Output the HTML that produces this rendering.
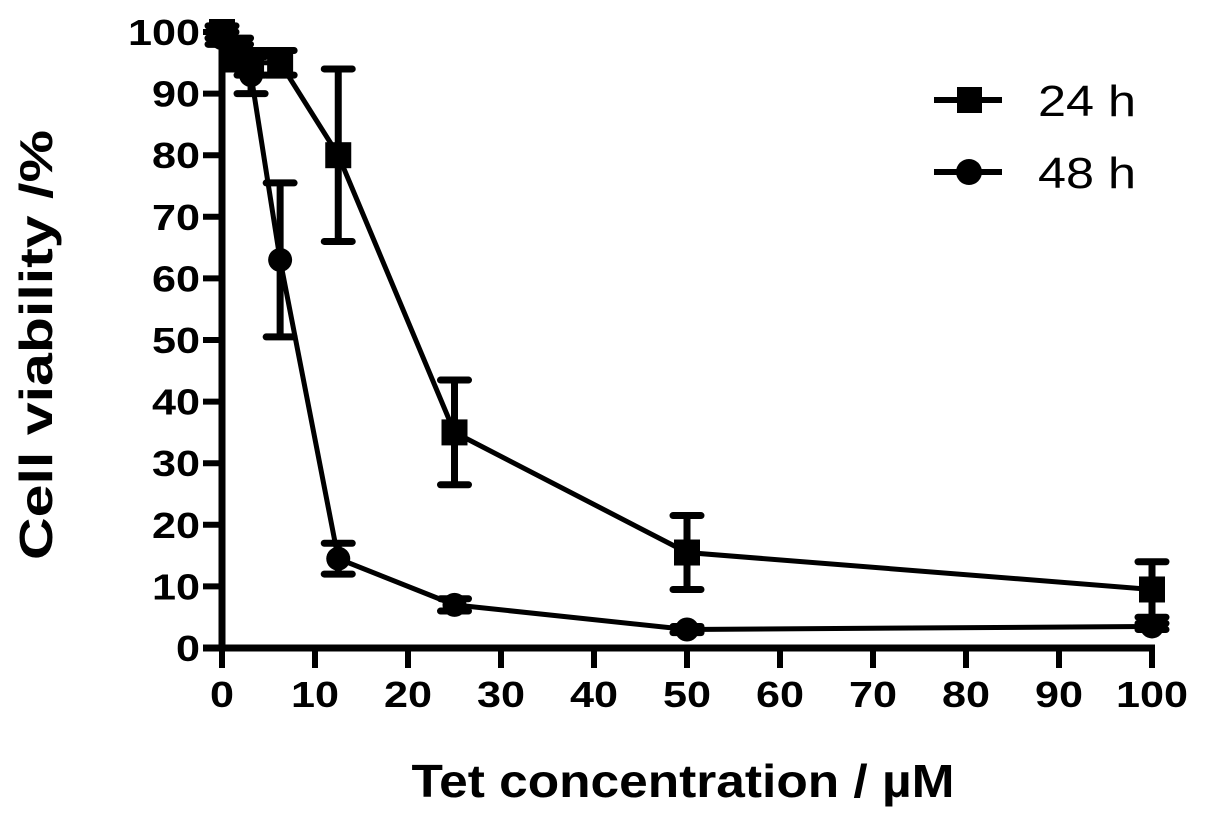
<!DOCTYPE html>
<html><head><meta charset="utf-8"><style>
body{margin:0;background:#fff}
svg text{font-family:"Liberation Sans",Arial,sans-serif}
</style></head><body>
<svg id="c" width="1205" height="826" viewBox="0 0 1205 826" xmlns="http://www.w3.org/2000/svg"></svg>
<script>
const xs=[0,1.5625,3.125,6.25,12.5,25,50,100];
const v24=[100,97,95,95,80,35,15.5,9.5];
const e24=[1,2,2,2,14,8.5,6,4.5];
const v48=[99,96,93,63,14.5,7,3,3.5];
const e48=[1,2,3,12.5,2.5,1,0.5,0.5];
const xTicks=[0,10,20,30,40,50,60,70,80,90,100];
const yTicks=[0,10,20,30,40,50,60,70,80,90,100];
const svg=document.getElementById('c');
const NS='http://www.w3.org/2000/svg';
const X=v=>222+v*9.3, Y=v=>648-v*6.16;
function mk(t,a,p){const e=document.createElementNS(NS,t);for(const k in a)e.setAttribute(k,a[k]);(p||svg).appendChild(e);return e;}
const ax=mk('g',{});


mk('line',{x1:222,y1:Y(100)-2,x2:222,y2:650,stroke:'#000','stroke-width':7},ax);
mk('line',{x1:203,y1:648,x2:X(100)+3,y2:648,stroke:'#000','stroke-width':7},ax);
yTicks.forEach(t=>{mk('line',{x1:203,y1:Y(t),x2:222,y2:Y(t),stroke:'#000','stroke-width':6},ax);
 const s=String(t);
 const tx=mk('text',{x:200,y:Y(t)+13,'text-anchor':'end','font-size':36,'font-weight':'bold',textLength:s.length*24,lengthAdjust:'spacingAndGlyphs'},ax);tx.textContent=s;
 });
xTicks.forEach(t=>{mk('line',{x1:X(t),y1:648,x2:X(t),y2:668,stroke:'#000','stroke-width':6},ax);
 const s=String(t);
 const tx=mk('text',{x:X(t),y:707,'text-anchor':'middle','font-size':36,'font-weight':'bold',textLength:s.length*24,lengthAdjust:'spacingAndGlyphs'},ax);tx.textContent=s;
 });
const xt=mk('text',{x:683,y:797,'text-anchor':'middle','font-size':46,'font-weight':'bold',textLength:543,lengthAdjust:'spacingAndGlyphs'});xt.textContent='Tet concentration / µM';

const yt=mk('text',{x:0,y:0,'text-anchor':'middle','font-size':46,'font-weight':'bold',textLength:430,lengthAdjust:'spacingAndGlyphs',transform:'translate(52,345) rotate(-90)'});yt.textContent='Cell viability /%';

function series(vals,errs,shape,name){
 const g=mk('g',{});
 mk('polyline',{points:xs.map((x,i)=>X(x)+','+Y(vals[i])).join(' '),fill:'none',stroke:'#000','stroke-width':5},g);
 xs.forEach((x,i)=>{const cx=X(x),hi=Y(vals[i]+errs[i]),lo=Y(vals[i]-errs[i]);
  mk('line',{x1:cx,y1:hi,x2:cx,y2:lo,stroke:'#000','stroke-width':7},g);
  mk('line',{x1:cx-14,y1:hi,x2:cx+14,y2:hi,stroke:'#000','stroke-width':7,'stroke-linecap':'round'},g);
  mk('line',{x1:cx-14,y1:lo,x2:cx+14,y2:lo,stroke:'#000','stroke-width':7,'stroke-linecap':'round'},g);
  const m=shape==='sq'?mk('rect',{x:cx-13,y:Y(vals[i])-13,width:26,height:26,fill:'#000'},g):mk('circle',{cx:cx,cy:Y(vals[i]),r:12,fill:'#000'},g);
  });
}
series(v48,e48,'ci','series-48h');
series(v24,e24,'sq','series-24h');
const lg=mk('g',{});
[['24 h',100,'sq'],['48 h',172,'ci']].forEach(([l,y,s])=>{
 mk('line',{x1:934,y1:y,x2:1002,y2:y,stroke:'#000','stroke-width':6},lg);
 if(s==='sq')mk('rect',{x:957,y:y-13,width:25,height:26,fill:'#000'},lg);else mk('circle',{cx:969,cy:y,r:13,fill:'#000'},lg);
 const t=mk('text',{x:1038,y:y+16,'font-size':44,textLength:98,lengthAdjust:'spacingAndGlyphs'},lg);t.textContent=l;
 });
</script>
</body></html>
